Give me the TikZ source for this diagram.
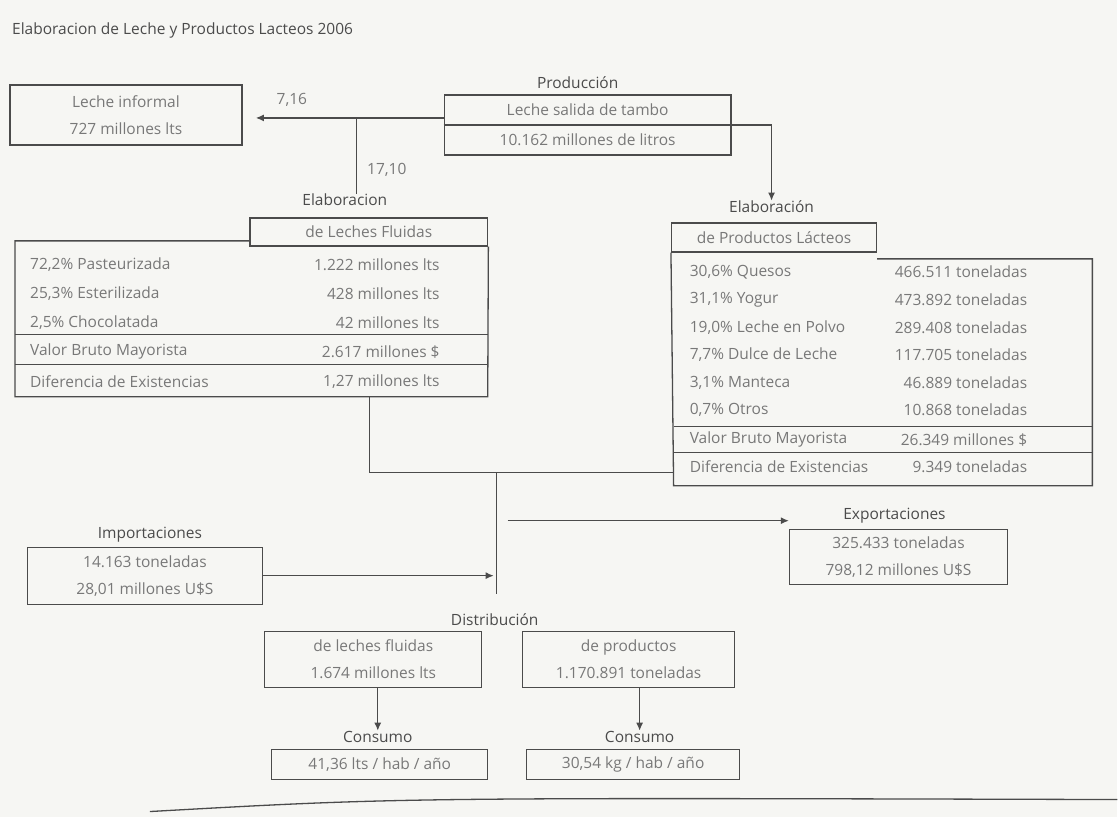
\documentclass[tikz,border=0pt]{standalone}
\usepackage{fontspec}
\setmainfont{Open Sans}
\usetikzlibrary{arrows.meta}
\definecolor{paper}{RGB}{246,246,243}
\definecolor{ink}{RGB}{75,75,75}
\definecolor{inktext}{RGB}{120,120,120}
\begin{document}
\begin{tikzpicture}[x=1pt,y=-1pt,
		lnk/.style={draw=ink,line width=1.3pt},
		tip/.style={-{Latex[length=8pt,width=7pt]}},
		box/.style={draw=ink,line width=1.3pt,inner sep=0pt,align=center,text=inktext,font=\fontsize{15.5}{27}\selectfont},
		txt/.style={inner sep=0pt,text=inktext,font=\fontsize{15.5}{17}\selectfont},
		hdr/.style={inner sep=0pt,text=ink,font=\fontsize{15.5}{17}\selectfont}]
	\fill [paper] (0,0) rectangle (1118,817);
	\node [hdr,anchor=west] (title) at (12,30) {Elaboracion de Leche y Productos Lacteos 2006};

	\node [box,minimum width=232,minimum height=60] (informal) at (126,115) {Leche informal\\727 millones lts};
	\node [hdr] (prodlab) at (578,83) {Producción};
	\node [box,minimum width=287,minimum height=60,font=\fontsize{15.5}{30}\selectfont] (tambo) at (588,125) {Leche salida de tambo\\10.162 millones de litros};
	\draw [lnk] (tambo.west) -- (tambo.east);
	\coordinate (fork) at (357,118);
	\coordinate (inftip) at (256,118);
	\draw [lnk,tip] (tambo.west |- fork) -- (inftip);
	\node [txt] (pctinf) at (292,100) {7,16};
	\node [txt] (pctflu) at (387,170) {17,10};
	\node [hdr] (flulab) at (345,200) {Elaboracion};
	\draw [lnk] (fork) -- (fork |- flulab.north);
	\node [hdr] (prdlab) at (772,207) {Elaboración};
	\draw [lnk,tip] (tambo.east) -| (prdlab.north);

	\node [box,minimum width=238,minimum height=28] (flutab) at (369,232) {de Leches Fluidas};
	\draw [lnk] (250,241) -- (15,241) -- (15,397) -- (488,397) -- (flutab.south east);
	\draw [lnk] (15,335) -- (488,335);
	\draw [lnk] (15,365) -- (488,365);
	\node [txt,anchor=west] (past) at (30,265) {72,2\% Pasteurizada};
	\node [txt,anchor=east] (pastv) at (440,265) {1.222 millones lts};
	\node [txt,anchor=west] (este) at (30,294) {25,3\% Esterilizada};
	\node [txt,anchor=east] (estev) at (440,294) {428 millones lts};
	\node [txt,anchor=west] (choc) at (30,323) {2,5\% Chocolatada};
	\node [txt,anchor=east] (chocv) at (440,323) {42 millones lts};
	\node [txt,anchor=west] (fluvbm) at (30,352) {Valor Bruto Mayorista};
	\node [txt,anchor=east] (fluvbmv) at (440,352) {2.617 millones \$};
	\node [txt,anchor=west] (fludif) at (30,382) {Diferencia de Existencias};
	\node [txt,anchor=east] (fludifv) at (440,382) {1,27 millones lts};

	\node [box,minimum width=205,minimum height=29] (prdtab) at (774.5,237.5) {de Productos Lácteos};
	\draw [lnk] (prdtab.south east |- 0,259) -- (1093,259) -- (1093,486) -- (674,486) -- (prdtab.south west);
	\draw [lnk] (674,427) -- (1093,427);
	\draw [lnk] (674,453) -- (1093,453);
	\node [txt,anchor=west] (ques) at (690,272) {30,6\% Quesos};
	\node [txt,anchor=east] (quesv) at (1028,272) {466.511 toneladas};
	\node [txt,anchor=west] (yogu) at (690,300) {31,1\% Yogur};
	\node [txt,anchor=east] (yoguv) at (1028,300) {473.892 toneladas};
	\node [txt,anchor=west] (polv) at (690,328) {19,0\% Leche en Polvo};
	\node [txt,anchor=east] (polvv) at (1028,328) {289.408 toneladas};
	\node [txt,anchor=west] (dulc) at (690,355) {7,7\% Dulce de Leche};
	\node [txt,anchor=east] (dulcv) at (1028,355) {117.705 toneladas};
	\node [txt,anchor=west] (mant) at (690,383) {3,1\% Manteca};
	\node [txt,anchor=east] (mantv) at (1028,383) {46.889 toneladas};
	\node [txt,anchor=west] (otro) at (690,410) {0,7\% Otros};
	\node [txt,anchor=east] (otrov) at (1028,410) {10.868 toneladas};
	\node [txt,anchor=west] (prdvbm) at (690,440) {Valor Bruto Mayorista};
	\node [txt,anchor=east] (prdvbmv) at (1028,440) {26.349 millones \$};
	\node [txt,anchor=west] (prddif) at (690,467) {Diferencia de Existencias};
	\node [txt,anchor=east] (prddifv) at (1028,467) {9.349 toneladas};

	\coordinate (fluout) at (370,397);
	\coordinate (prdout) at (674,473);
	\coordinate (hub) at (497,473);
	\coordinate (hubend) at (497,594);
	\draw [lnk] (fluout) |- (hub) -- (prdout);
	\draw [lnk] (hub) -- (hubend);

	\node [hdr] (implab) at (150,535) {Importaciones};
	\node [box,minimum width=235,minimum height=57] (imp) at (145,576) {14.163 toneladas\\28,01 millones U\$S};
	\coordinate (imptip) at (494,576);
	\draw [lnk,tip] (imp.east) -- (imptip);
	\node [hdr] (explab) at (895,516) {Exportaciones};
	\node [box,minimum width=218,minimum height=55] (exp) at (899,557) {325.433 toneladas\\798,12 millones U\$S};
	\coordinate (expstart) at (508,521);
	\draw [lnk,tip] (expstart) -- (expstart -| exp.west);

	\node [hdr] (distlab) at (495,620) {Distribución};
	\node [box,minimum width=217,minimum height=56] (dfl) at (373.5,660) {de leches fluidas\\1.674 millones lts};
	\node [box,minimum width=212,minimum height=56] (dpr) at (629,660) {de productos\\1.170.891 toneladas};
	\node [hdr] (cfllab) at (378,737) {Consumo};
	\node [hdr] (cprlab) at (640,737) {Consumo};
	\draw [lnk,tip] (dfl.south -| cfllab.north) -- (cfllab.north);
	\draw [lnk,tip] (dpr.south -| cprlab.north) -- (cprlab.north);
	\node [box,minimum width=216,minimum height=30] (cfl) at (380,765) {41,36 lts / hab / año};
	\node [box,minimum width=213,minimum height=30] (cpr) at (633.5,765) {30,54 kg / hab / año};
	\draw [lnk] (150,812) .. controls (400,798) .. (1118,800);
\end{tikzpicture}
\end{document}
